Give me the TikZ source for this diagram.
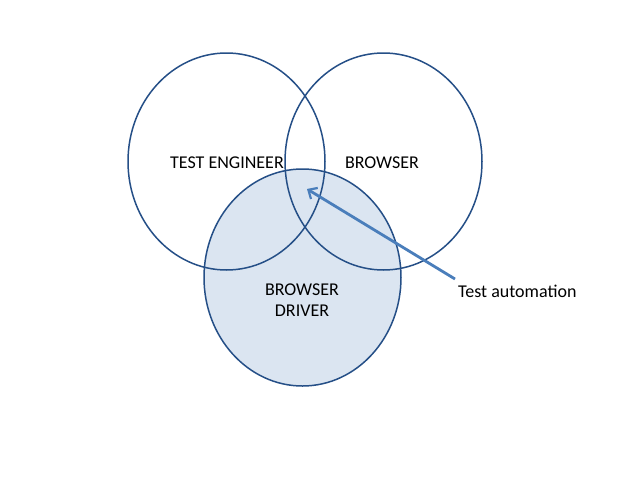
\documentclass[tikz,border=0pt]{standalone}
\usepackage{fontspec}
\setmainfont{Carlito}
\usetikzlibrary{arrows.meta}
\definecolor{ringc}{RGB}{37,79,135}
\definecolor{fillc}{RGB}{219,229,241}
\definecolor{arrc}{RGB}{74,126,187}
\begin{document}
\begin{tikzpicture}[x=1pt,y=-1pt,
  ring/.style={draw=ringc,line width=1.5pt},
  lbl/.style={font=\fontsize{18}{21.6}\selectfont,inner sep=0pt,anchor=base,align=center},
  pointer/.style={draw=arrc,line width=2.8pt,-{Straight Barb[length=7pt,width=13pt,line width=2.2pt]}}]
\useasboundingbox (0,0) rectangle (640,480);
\fill[white] (0,0) rectangle (640,480);
% bottom filled ellipse
\path[ring,fill=fillc] (302.5,277.5) ellipse [x radius=98.5, y radius=108.5];
% left and right
\path[ring] (226.5,161.5) ellipse [x radius=98.5, y radius=108.5];
\path[ring] (383.5,161.5) ellipse [x radius=98.5, y radius=108.5];
% labels
\node[lbl] (te) at (227,168) {TEST ENGINEER};
\node[lbl] (br) at (382,168) {BROWSER};
\node[lbl] (bd1) at (302,295) {BROWSER};
\node[lbl] (bd2) at (302,316) {DRIVER};
\node[lbl,anchor=base west] (ta) at (458,297) {Test automation};
% arrow
\coordinate (tail) at (455,279);
\coordinate (tip) at (307,189);
\draw[pointer] (tail) -- (tip);
\end{tikzpicture}
\end{document}
